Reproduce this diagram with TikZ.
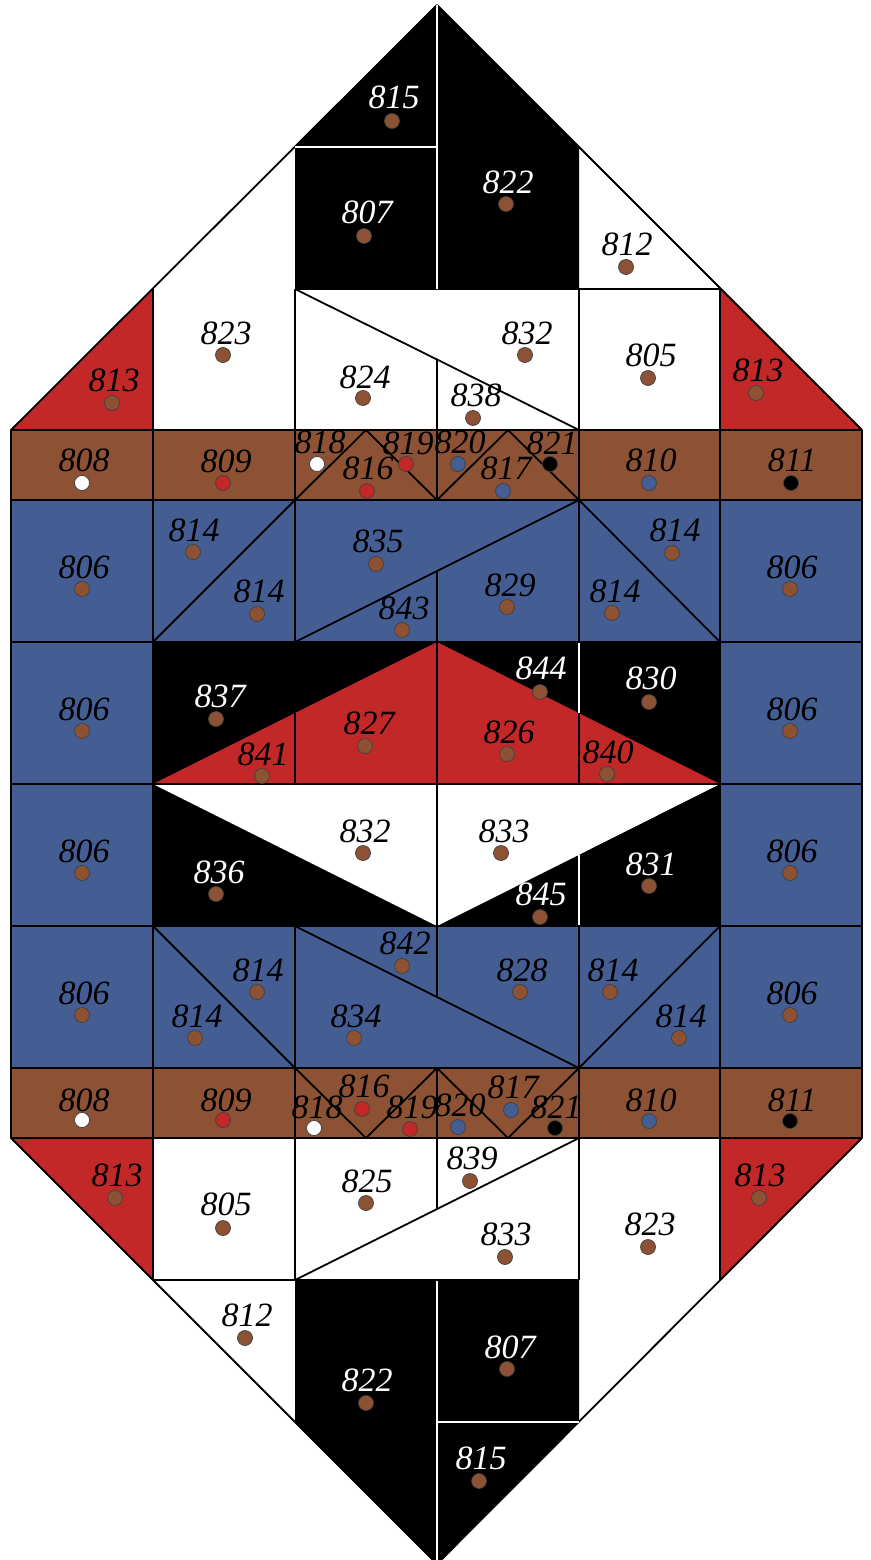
\documentclass[tikz,border=0pt]{standalone}
\usepackage{fontspec}
\setmainfont{Liberation Serif}
\definecolor{cred}{HTML}{C22828}
\definecolor{cbrown}{HTML}{8D5233}
\definecolor{cblue}{HTML}{445D93}
\tikzset{
  bl/.style={line width=1.8pt, black, line join=round},
  wl/.style={line width=1.8pt, white},
  lab/.style={inner sep=0pt, font=\fontsize{34}{40}\selectfont\itshape},
  dotn/.style={circle, inner sep=0pt, minimum size=15pt, draw=black!75, line width=0.7pt},
}
\newcommand{\cell}[8]{%
  \node[lab, text=#5] (t#1) at (#2,#3) {#4};
  \node[dotn, fill=#8] (d#1) at (#6,#7) {};
}
\begin{document}
\begin{tikzpicture}[x=1pt,y=-1pt]
\useasboundingbox (0,0) rectangle (870,1560);
\fill[white] (0,0) rectangle (870,1560);
% ---------- fills
\fill[cbrown] (11,430) rectangle (862,500);
\fill[cbrown] (11,1068) rectangle (862,1138);
\fill[cblue] (11,500) rectangle (862,642);
\fill[cblue] (11,926) rectangle (862,1068);
\fill[cblue] (11,642) rectangle (153,926);
\fill[cblue] (720,642) rectangle (862,926);
\fill[black] (153,642) rectangle (720,926);
\fill[cred] (153,784) -- (437,642) -- (720,784) -- cycle;
\fill[white] (153,784) -- (720,784) -- (437,926) -- cycle;
\fill[black] (437,5) -- (579,147) -- (579,289) -- (295,289) -- (295,147) -- cycle;
\fill[black] (295,1280) -- (579,1280) -- (579,1422) -- (437,1564) -- (295,1422) -- cycle;
\fill[cred] (153,289) -- (11,430) -- (153,430) -- cycle;
\fill[cred] (720,289) -- (862,430) -- (720,430) -- cycle;
\fill[cred] (11,1138) -- (153,1138) -- (153,1280) -- cycle;
\fill[cred] (720,1138) -- (862,1138) -- (720,1280) -- cycle;
% ---------- black lines
\draw[bl] (437,5) -- (862,430) -- (862,1138) -- (437,1564) -- (11,1138) -- (11,430) -- cycle;
\draw[bl] (295,289) -- (720,289);
\foreach \yy in {430,500,642,784,926,1068,1138} {\draw[bl] (11,\yy) -- (862,\yy);}
\draw[bl] (153,1280) -- (579,1280);
\draw[bl] (153,289) -- (153,1280);
\draw[bl] (720,289) -- (720,1280);
\draw[bl] (295,289) -- (295,642);
\draw[bl] (295,713) -- (295,784);
\draw[bl] (295,926) -- (295,1280);
\draw[bl] (579,289) -- (579,642);
\draw[bl] (579,713) -- (579,784);
\draw[bl] (579,926) -- (579,1280);
\draw[bl] (437,359.5) -- (437,500);
\draw[bl] (437,571) -- (437,997);
\draw[bl] (437,1068) -- (437,1209);
\draw[bl] (295,289) -- (579,430);
\draw[bl] (295,500) -- (366,430) -- (437,500) -- (508,430) -- (579,500);
\draw[bl] (153,642) -- (295,500);
\draw[bl] (295,642) -- (579,500);
\draw[bl] (579,500) -- (720,642);
\draw[bl] (153,926) -- (295,1068);
\draw[bl] (295,926) -- (579,1068);
\draw[bl] (579,1068) -- (720,926);
\draw[bl] (295,1068) -- (366,1138) -- (437,1068) -- (508,1138) -- (579,1068);
\draw[bl] (295,1280) -- (579,1138);
% ---------- white lines
\draw[wl] (437,5) -- (437,289);
\draw[wl] (295,147) -- (437,147);
\draw[wl] (579,643) -- (579,713);
\draw[wl] (579,854.5) -- (579,925);
\draw[wl] (437,1281) -- (437,1564);
\draw[wl] (437,1422) -- (579,1422);
% ---------- labels
\cell{a1}{394}{97}{815}{white}{392}{121}{cbrown}
\cell{a2}{367}{212}{807}{white}{364}{236}{cbrown}
\cell{a3}{508}{182}{822}{white}{506}{204}{cbrown}
\cell{a4}{627}{244}{812}{black}{626}{267}{cbrown}
\cell{a5}{226}{333}{823}{black}{223}{355}{cbrown}
\cell{a6}{114}{380}{813}{black}{112}{403}{cbrown}
\cell{a7}{758}{370}{813}{black}{756}{393}{cbrown}
\cell{a8}{365}{377}{824}{black}{363}{398}{cbrown}
\cell{a9}{527}{333}{832}{black}{525}{355}{cbrown}
\cell{a10}{476}{395}{838}{black}{473}{418}{cbrown}
\cell{a11}{651}{355}{805}{black}{648}{378}{cbrown}
%
\cell{b1}{84}{460}{808}{black}{82}{483}{white}
\cell{b2}{226}{461}{809}{black}{223}{483}{cred}
\cell{b3}{320}{442}{818}{black}{317}{464}{white}
\cell{b4}{368}{468}{816}{black}{367}{491}{cred}
\cell{b5}{408}{443}{819}{black}{406}{464}{cred}
\cell{b6}{460}{442}{820}{black}{458}{464}{cblue}
\cell{b7}{506}{468}{817}{black}{503}{491}{cblue}
\cell{b8}{552}{443}{821}{black}{550}{464}{black}
\cell{b9}{651}{460}{810}{black}{649}{483}{cblue}
\cell{b10}{792}{460}{811}{black}{791}{483}{black}
%
\cell{c1}{84}{567}{806}{black}{82}{589}{cbrown}
\cell{c2}{194}{530}{814}{black}{193}{552}{cbrown}
\cell{c3}{259}{591}{814}{black}{257}{614}{cbrown}
\cell{c4}{378}{541}{835}{black}{376}{564}{cbrown}
\cell{c5}{404}{608}{843}{black}{402}{630}{cbrown}
\cell{c6}{510}{585}{829}{black}{507}{607}{cbrown}
\cell{c7}{675}{530}{814}{black}{672}{553}{cbrown}
\cell{c8}{615}{591}{814}{black}{612}{613}{cbrown}
\cell{c9}{792}{567}{806}{black}{790}{589}{cbrown}
%
\cell{d1}{84}{709}{806}{black}{82}{731}{cbrown}
\cell{d2}{220}{696}{837}{white}{216}{719}{cbrown}
\cell{d3}{263}{754}{841}{black}{262}{776}{cbrown}
\cell{d4}{369}{723}{827}{black}{365}{746}{cbrown}
\cell{d5}{509}{732}{826}{black}{507}{754}{cbrown}
\cell{d6}{541}{668}{844}{white}{540}{692}{cbrown}
\cell{d7}{651}{678}{830}{white}{649}{702}{cbrown}
\cell{d8}{608}{752}{840}{black}{607}{774}{cbrown}
\cell{d9}{792}{709}{806}{black}{790}{731}{cbrown}
%
\cell{e1}{84}{851}{806}{black}{82}{873}{cbrown}
\cell{e2}{219}{872}{836}{white}{216}{894}{cbrown}
\cell{e3}{365}{831}{832}{black}{363}{853}{cbrown}
\cell{e4}{504}{831}{833}{black}{501}{853}{cbrown}
\cell{e5}{541}{894}{845}{white}{540}{917}{cbrown}
\cell{e6}{651}{864}{831}{white}{649}{886}{cbrown}
\cell{e7}{792}{851}{806}{black}{790}{873}{cbrown}
%
\cell{f1}{84}{993}{806}{black}{82}{1015}{cbrown}
\cell{f2}{258}{970}{814}{black}{257}{992}{cbrown}
\cell{f3}{197}{1016}{814}{black}{195}{1038}{cbrown}
\cell{f4}{405}{943}{842}{black}{402}{966}{cbrown}
\cell{f5}{522}{970}{828}{black}{520}{992}{cbrown}
\cell{f6}{356}{1016}{834}{black}{354}{1038}{cbrown}
\cell{f7}{613}{970}{814}{black}{610}{992}{cbrown}
\cell{f8}{681}{1016}{814}{black}{679}{1038}{cbrown}
\cell{f9}{792}{993}{806}{black}{790}{1015}{cbrown}
%
\cell{g1}{84}{1100}{808}{black}{82}{1120}{white}
\cell{g2}{226}{1100}{809}{black}{223}{1120}{cred}
\cell{g3}{317}{1107}{818}{black}{314}{1128}{white}
\cell{g4}{364}{1086}{816}{black}{362}{1109}{cred}
\cell{g5}{412}{1107}{819}{black}{410}{1129}{cred}
\cell{g6}{460}{1105}{820}{black}{458}{1127}{cblue}
\cell{g7}{513}{1087}{817}{black}{511}{1110}{cblue}
\cell{g8}{556}{1107}{821}{black}{555}{1128}{black}
\cell{g9}{651}{1100}{810}{black}{649}{1121}{cblue}
\cell{g10}{792}{1100}{811}{black}{790}{1121}{black}
%
\cell{h1}{117}{1175}{813}{black}{115}{1198}{cbrown}
\cell{h2}{226}{1204}{805}{black}{223}{1228}{cbrown}
\cell{h3}{367}{1181}{825}{black}{366}{1203}{cbrown}
\cell{h4}{472}{1158}{839}{black}{470}{1181}{cbrown}
\cell{h5}{506}{1234}{833}{black}{505}{1257}{cbrown}
\cell{h6}{650}{1224}{823}{black}{648}{1247}{cbrown}
\cell{h7}{760}{1175}{813}{black}{759}{1198}{cbrown}
\cell{h8}{247}{1315}{812}{black}{245}{1338}{cbrown}
\cell{h9}{367}{1380}{822}{white}{366}{1403}{cbrown}
\cell{h10}{510}{1347}{807}{white}{507}{1369}{cbrown}
\cell{h11}{481}{1458}{815}{white}{479}{1481}{cbrown}
\end{tikzpicture}
\end{document}
